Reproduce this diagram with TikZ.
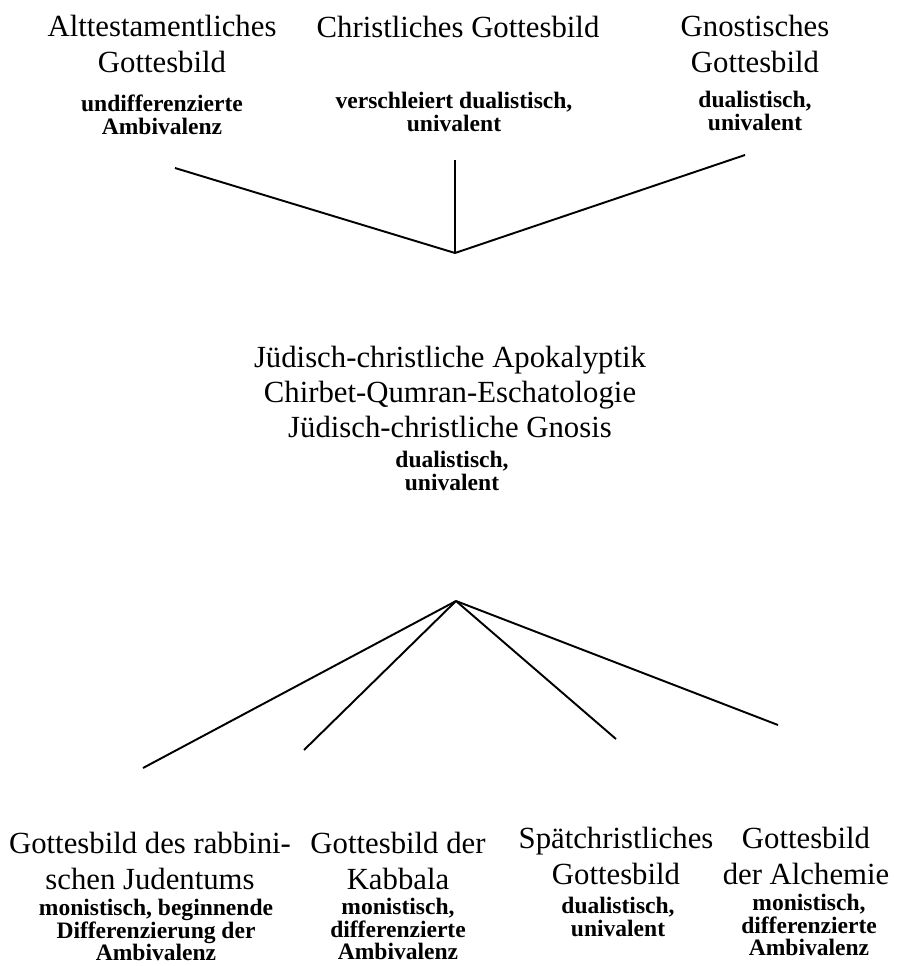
\documentclass[tikz,border=0pt]{standalone}
\usepackage{fontspec}
\setmainfont{Liberation Serif}

\begin{document}
\begin{tikzpicture}[x=0.02cm,y=-0.02cm,
  head/.style={align=center,inner sep=0pt,font=\fontsize{17.5}{21}\selectfont},
  sub/.style={align=center,inner sep=0pt,font=\bfseries\fontsize{13.4}{12.8}\selectfont},
  link/.style={line width=1.1pt}]
  \useasboundingbox (0,0) rectangle (898,966);
  % upper row
  \node[head] (altH) at (162,44) {Alttestamentliches\\Gottesbild};
  \node[sub]  (altS) at (162,115) {undifferenzierte\\Ambivalenz};
  \node[head] (chrH) at (458,27) {Christliches Gottesbild};
  \node[sub]  (chrS) at (454,112) {verschleiert dualistisch,\\univalent};
  \node[head] (gnoH) at (755,44) {Gnostisches\\Gottesbild};
  \node[sub]  (gnoS) at (755,111) {dualistisch,\\univalent};
  % middle
  \node[head,font=\fontsize{17.5}{20}\selectfont] (apoH) at (450,392)
    {Jüdisch-christliche Apokalyptik\\Chirbet-Qumran-Eschatologie\\Jüdisch-christliche Gnosis};
  \node[sub]  (apoS) at (452,471) {dualistisch,\\univalent};
  % lower row
  \node[head] (rabH) at (150,861) {Gottesbild des rabbini-\\schen Judentums};
  \node[sub]  (rabS) at (156,930) {monistisch, beginnende\\Differenzierung der\\Ambivalenz};
  \node[head] (kabH) at (398,861) {Gottesbild der\\Kabbala};
  \node[sub]  (kabS) at (398,929) {monistisch,\\differenzierte\\Ambivalenz};
  \node[head] (spaH) at (616,856) {Spätchristliches\\Gottesbild};
  \node[sub]  (spaS) at (618,917) {dualistisch,\\univalent};
  \node[head] (alcH) at (806,856) {Gottesbild\\der Alchemie};
  \node[sub]  (alcS) at (809,925) {monistisch,\\differenzierte\\Ambivalenz};
  % line ends
  \coordinate (top) at (455,253);
  \coordinate (altE) at (175,168);
  \coordinate (chrE) at (455,160);
  \coordinate (gnoE) at (745,155);
  \coordinate (low) at (456,601);
  \coordinate (rabE) at (143,768);
  \coordinate (kabE) at (304,750);
  \coordinate (spaE) at (616,739);
  \coordinate (alcE) at (778,725);
  \foreach \e in {altE,chrE,gnoE}
    \draw[link] (\e) -- (top);
  \foreach \e in {rabE,kabE,spaE,alcE}
    \draw[link] (low) -- (\e);
\end{tikzpicture}
\end{document}
